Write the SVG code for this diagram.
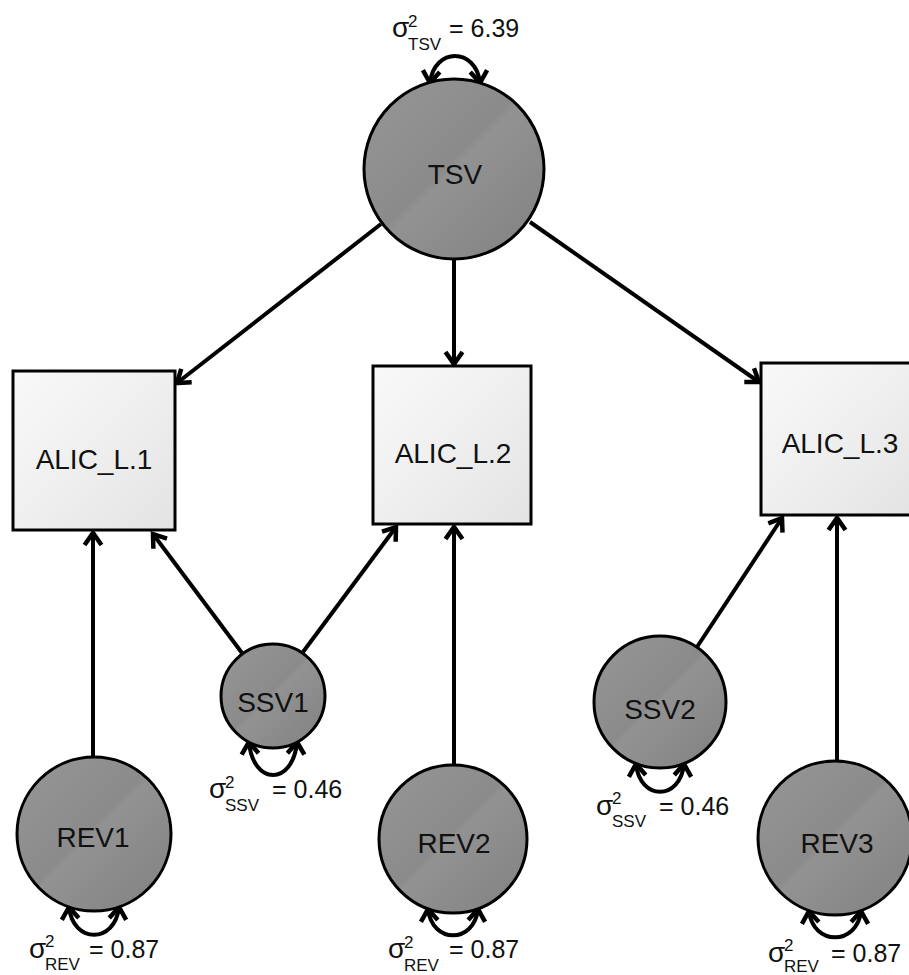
<svg xmlns="http://www.w3.org/2000/svg" width="909" height="975" viewBox="0 0 909 975">
<defs>
<linearGradient id="gc" x1="0" y1="0" x2="1" y2="1">
<stop offset="0" stop-color="#969696"/>
<stop offset="0.47" stop-color="#8b8b8b"/>
<stop offset="0.5" stop-color="#929292"/>
<stop offset="1" stop-color="#818181"/>
</linearGradient>
<linearGradient id="gb" x1="0" y1="0" x2="1" y2="1">
<stop offset="0" stop-color="#f9f9f9"/>
<stop offset="0.5" stop-color="#efefef"/>
<stop offset="1" stop-color="#e3e3e3"/>
</linearGradient>
<marker id="ah" markerUnits="userSpaceOnUse" markerWidth="34" markerHeight="34" viewBox="-17 -17 34 34" refX="0" refY="0" orient="auto-start-reverse">
<path d="M -12 -8.5 L 0 0 L -12 8.5" fill="none" stroke="#000" stroke-width="4.5" stroke-linecap="butt" stroke-linejoin="miter"/>
</marker>
</defs>
<style>
.lat{fill:url(#gc);stroke:#000;stroke-width:3}
.box{fill:url(#gb);stroke:#000;stroke-width:3}
.lbl{font-family:"Liberation Sans",Arial,sans-serif;font-size:28px;fill:#111;text-anchor:middle}
.v{font-family:"Liberation Sans",Arial,sans-serif;font-size:25px;fill:#111}
.g{font-family:"Liberation Sans",Arial,sans-serif;font-size:28px;fill:#111}
.s{font-family:"Liberation Sans",Arial,sans-serif;font-size:17px;fill:#111}
.c{fill:none;stroke:#000;stroke-width:4;marker-end:url(#ah)}
.var{fill:none;stroke:#000;stroke-width:4;marker-start:url(#ah);marker-end:url(#ah)}
</style>
<rect width="909" height="975" fill="#fff"/>
<g id="connectors">
<line class="c" x1="381" y1="224" x2="177" y2="383"/>
<line class="c" x1="454" y1="259" x2="454" y2="364"/>
<line class="c" x1="530" y1="222" x2="759" y2="382"/>
<line class="c" x1="93" y1="757" x2="93" y2="533"/>
<line class="c" x1="242" y1="653" x2="153" y2="534"/>
<line class="c" x1="303" y1="652" x2="396" y2="527"/>
<line class="c" x1="454" y1="765" x2="454" y2="527"/>
<line class="c" x1="697" y1="647" x2="782" y2="518"/>
<line class="c" x1="837" y1="761" x2="837" y2="518"/>
<path class="var" d="M 430 83 C 434 47, 476 47, 480 83"/>
<path class="var" d="M 249 742 C 253 786, 293 786, 297 742"/>
<path class="var" d="M 636 764 C 640 801, 680 801, 684 764"/>
<path class="var" d="M 69 907 C 73 944, 115 944, 119 907"/>
<path class="var" d="M 428 909 C 432 944, 474 944, 478 909"/>
<path class="var" d="M 809 911 C 813 946, 857 946, 861 911"/>
</g>
<g id="TSV">
<circle class="lat" cx="454" cy="169" r="90"/>
<text class="lbl" x="455" y="184">TSV</text>
<text class="g" x="392" y="37">σ</text><text class="s" x="408" y="27">2</text><text class="s" x="408" y="50">TSV</text><text class="v" x="449" y="37">= 6.39</text>
</g>
<g id="ALIC_L1">
<rect class="box" x="13" y="371" width="162" height="159"/>
<text class="lbl" x="94" y="469">ALIC_L.1</text>
</g>
<g id="ALIC_L2">
<rect class="box" x="373" y="366" width="158" height="158"/>
<text class="lbl" x="453" y="463">ALIC_L.2</text>
</g>
<g id="ALIC_L3">
<rect class="box" x="761" y="363" width="156" height="152"/>
<text class="lbl" x="840" y="453">ALIC_L.3</text>
</g>
<g id="SSV1">
<circle class="lat" cx="273" cy="696" r="52"/>
<text class="lbl" x="273" y="712">SSV1</text>
<text class="g" x="209" y="798">σ</text><text class="s" x="225" y="788">2</text><text class="s" x="225" y="811">SSV</text><text class="v" x="272" y="798">= 0.46</text>
</g>
<g id="SSV2">
<circle class="lat" cx="660" cy="702" r="66"/>
<text class="lbl" x="660" y="719">SSV2</text>
<text class="g" x="596" y="815">σ</text><text class="s" x="612" y="804">2</text><text class="s" x="612" y="827">SSV</text><text class="v" x="659" y="815">= 0.46</text>
</g>
<g id="REV1">
<circle class="lat" cx="94" cy="834" r="77"/>
<text class="lbl" x="93" y="847">REV1</text>
<text class="g" x="29" y="958">σ</text><text class="s" x="45" y="947">2</text><text class="s" x="45" y="970">REV</text><text class="v" x="89" y="958">= 0.87</text>
</g>
<g id="REV2">
<circle class="lat" cx="453" cy="839" r="74"/>
<text class="lbl" x="454" y="853">REV2</text>
<text class="g" x="388" y="958">σ</text><text class="s" x="404" y="948">2</text><text class="s" x="404" y="971">REV</text><text class="v" x="449" y="958">= 0.87</text>
</g>
<g id="REV3">
<circle class="lat" cx="835" cy="838" r="77"/>
<text class="lbl" x="837" y="853">REV3</text>
<text class="g" x="768" y="962">σ</text><text class="s" x="784" y="951">2</text><text class="s" x="784" y="972">REV</text><text class="v" x="831" y="962">= 0.87</text>
</g>
</svg>
